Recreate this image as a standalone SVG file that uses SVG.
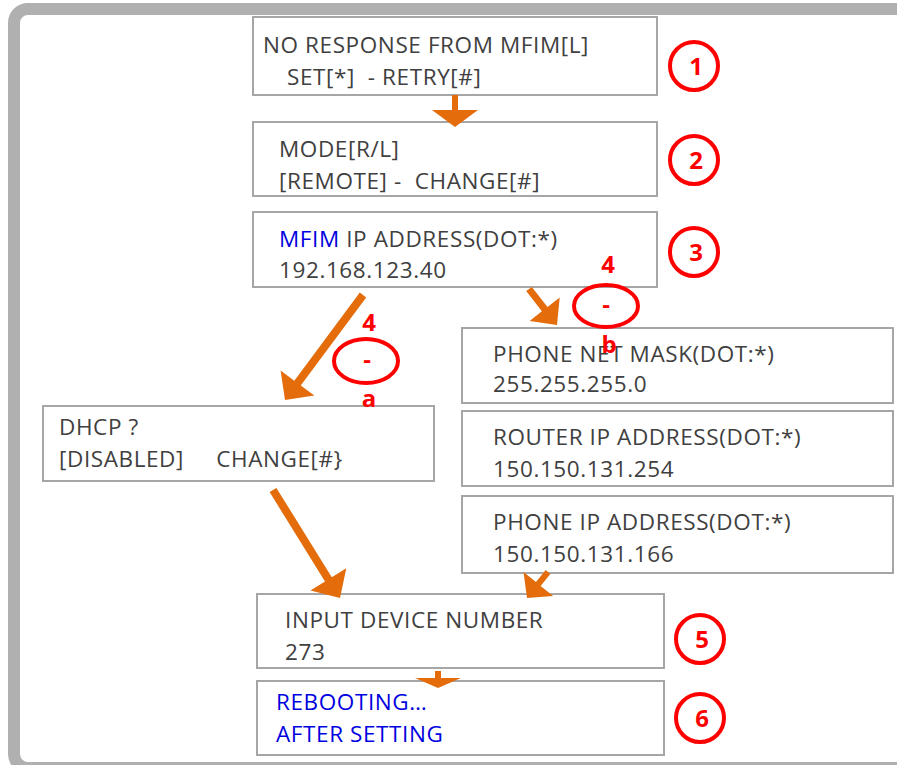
<svg xmlns="http://www.w3.org/2000/svg" width="897" height="765" viewBox="0 0 897 765">
<style>
.box{fill:#fff;stroke:#a6a6a6;stroke-width:2}
.t{font-family:"Open Sans","Liberation Sans",sans-serif;font-size:22.5px;letter-spacing:0.6px;fill:#404040;white-space:pre}
.b{fill:#0000e0}
.num{fill:none;stroke:#ff0000;stroke-width:4}
.nt{font-family:"Open Sans","Liberation Sans",sans-serif;font-weight:bold;font-size:24px;fill:#ff0000;text-anchor:middle}
.arr{fill:#e46c0a}
</style>
<rect width="897" height="765" fill="#fff"/>
<rect x="14" y="9" width="900" height="759" rx="14" fill="#fff" stroke="#b0b0b0" stroke-width="12"/>

<g id="n1"><rect class="box" x="253" y="17" width="404" height="78"/>
<text class="t" x="263" y="53" xml:space="preserve">NO RESPONSE FROM MFIM[L]</text>
<text class="t" x="287" y="85" xml:space="preserve">SET[*]  - RETRY[#]</text></g>
<g id="n2"><rect class="box" x="253" y="122" width="404" height="74"/>
<text class="t" x="279" y="157" xml:space="preserve">MODE[R/L]</text>
<text class="t" x="279" y="189" xml:space="preserve">[REMOTE] -  CHANGE[#]</text></g>
<g id="n3"><rect class="box" x="253" y="212" width="404" height="75"/>
<text class="t" x="279" y="247"><tspan class="b">MFIM</tspan> IP ADDRESS(DOT:*)</text>
<text class="t" x="279" y="278">192.168.123.40</text></g>
<g id="n4b1"><rect class="box" x="462" y="328" width="431" height="75"/>
<text class="t" x="493" y="362">PHONE NET MASK(DOT:*)</text>
<text class="t" x="493" y="392">255.255.255.0</text></g>
<g id="n4b2"><rect class="box" x="462" y="411" width="431" height="75"/>
<text class="t" x="493" y="445">ROUTER IP ADDRESS(DOT:*)</text>
<text class="t" x="493" y="477">150.150.131.254</text></g>
<g id="n4b3"><rect class="box" x="462" y="496" width="431" height="77"/>
<text class="t" x="493" y="530">PHONE IP ADDRESS(DOT:*)</text>
<text class="t" x="493" y="562">150.150.131.166</text></g>
<g id="n4a"><rect class="box" x="43" y="406" width="391" height="75"/>
<text class="t" x="59" y="435">DHCP ?</text>
<text class="t" x="59" y="467" xml:space="preserve">[DISABLED]     CHANGE[#}</text></g>
<g id="n5"><rect class="box" x="257" y="594" width="407" height="74"/>
<text class="t" x="285" y="628">INPUT DEVICE NUMBER</text>
<text class="t" x="285" y="660">273</text></g>
<g id="n6"><rect class="box" x="257" y="681" width="407" height="74"/>
<text class="t b" x="276" y="710">REBOOTING…</text>
<text class="t b" x="276" y="742">AFTER SETTING</text></g>

<g id="labels">
<circle class="num" cx="694" cy="66" r="24"/><text class="nt" x="696" y="75">1</text>
<circle class="num" cx="694" cy="160" r="24"/><text class="nt" x="696" y="169">2</text>
<circle class="num" cx="694" cy="252" r="24"/><text class="nt" x="696" y="261">3</text>
<circle class="num" cx="700" cy="639" r="24"/><text class="nt" x="702" y="648">5</text>
<circle class="num" cx="700" cy="718" r="24"/><text class="nt" x="702" y="727">6</text>
<ellipse class="num" cx="366" cy="361" rx="32" ry="22"/>
<text class="nt" x="369" y="331">4</text><text class="nt" x="367" y="368">-</text><text class="nt" x="369" y="407">a</text>
<ellipse class="num" cx="606" cy="306" rx="32" ry="21"/>
<text class="nt" x="608" y="273">4</text><text class="nt" x="606" y="313">-</text><text class="nt" x="609" y="353">b</text>
</g>

<g id="connectors">
<polygon class="arr" points="452,95 458,95 458,110 478,110 455,127 432,110 452,110"/>
<polygon class="arr" points="359.8,292.6 366.2,297.4 300.7,385.5 314.4,395.6 285,400 280.6,370.6 294.3,380.7"/>
<polygon class="arr" points="526.2,291.1 531.8,286.9 547.5,307.1 559.7,297.5 557,325 529.7,320.9 541.9,311.3"/>
<polygon class="arr" points="269.6,492.1 276.4,487.9 331.8,577.2 346.3,568.2 340,598 310.5,590.4 325,581.4"/>
<polygon class="arr" points="545.7,570.1 550.3,573.9 540.6,585.9 553.1,595.9 527,598 523.5,572.1 536,582.1"/>
<polygon class="arr" points="435,671 441,671 441,678 461,678 438,688 415,678 435,678"/>
</g>
</svg>
